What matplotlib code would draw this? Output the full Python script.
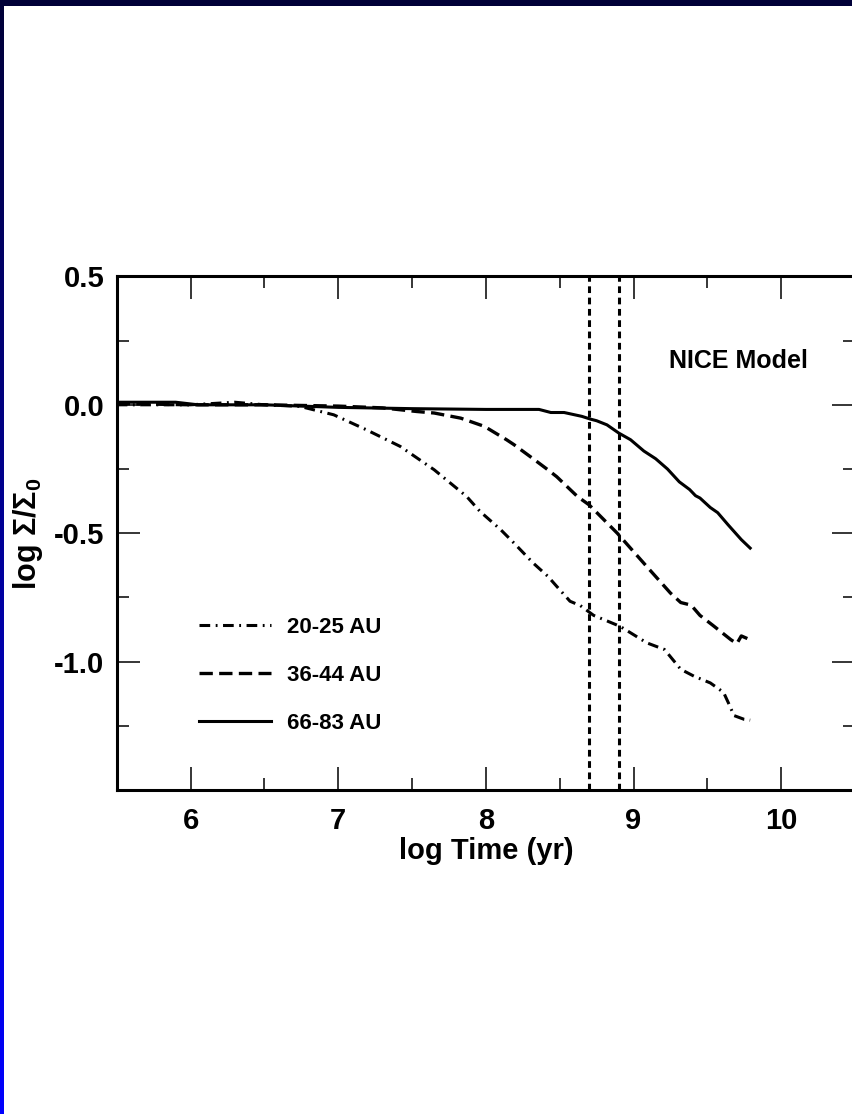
import numpy as np
import matplotlib
matplotlib.use("Agg")
import matplotlib.pyplot as plt
from matplotlib.patches import Rectangle

plt.rcParams['font.family'] = ['Liberation Sans', 'DejaVu Sans']
plt.rcParams['font.weight'] = 'bold'
plt.rcParams['mathtext.fontset'] = 'custom'
plt.rcParams['mathtext.rm'] = 'Liberation Sans:bold'
plt.rcParams['mathtext.bf'] = 'Liberation Sans:bold'
plt.rcParams['mathtext.it'] = 'Liberation Sans:bold'

# ---- data ----
x_20_25 = [5.5, 6.0, 6.3, 6.5, 6.74, 6.97, 7.19, 7.42, 7.65, 7.87, 7.96, 8.10, 8.19, 8.32,
           8.42, 8.48, 8.57, 8.64, 8.73, 8.91, 9.09, 9.21, 9.32, 9.41, 9.52, 9.61, 9.65,
           9.68, 9.75, 9.79]
y_20_25 = [0.0, 0.0, 0.01, 0.0, -0.006, -0.039, -0.097, -0.162, -0.253, -0.357, -0.415,
           -0.486, -0.538, -0.616, -0.668, -0.707, -0.765, -0.782, -0.82, -0.863, -0.927,
           -0.953, -1.03, -1.057, -1.083, -1.12, -1.17, -1.21, -1.225, -1.228]

x_36_44 = [5.5, 6.0, 6.5, 7.0, 7.3, 7.53, 7.65, 7.83, 7.99, 8.14, 8.19, 8.32, 8.42, 8.48,
           8.62, 8.70, 8.89, 9.09, 9.25, 9.32, 9.39, 9.45, 9.54, 9.66, 9.70, 9.73, 9.79]
y_36_44 = [0.005, 0.0, 0.0, -0.005, -0.012, -0.026, -0.032, -0.052, -0.084, -0.136,
           -0.155, -0.21, -0.253, -0.28, -0.357, -0.39, -0.50, -0.63, -0.733, -0.77,
           -0.78, -0.82, -0.86, -0.915, -0.93, -0.90, -0.915]

x_66_83 = [5.5, 5.9, 6.05, 6.5, 7.0, 7.5, 8.0, 8.36, 8.44, 8.53, 8.65, 8.71, 8.75, 8.82,
           8.90, 8.98, 9.07, 9.15, 9.23, 9.31, 9.38, 9.42, 9.45, 9.52, 9.57, 9.64, 9.73, 9.79]
y_66_83 = [0.01, 0.01, 0.0, 0.0, -0.01, -0.015, -0.018, -0.018, -0.03, -0.03, -0.045,
           -0.056, -0.062, -0.078, -0.11, -0.136, -0.18, -0.21, -0.25, -0.30, -0.33,
           -0.354, -0.363, -0.40, -0.42, -0.467, -0.525, -0.558]

series_labels = ['20-25 AU', '36-44 AU', '66-83 AU']
vlines_x = [8.7, 8.9]
x_ticks = [6, 7, 8, 9, 10]
y_ticks = [0.5, 0.0, -0.5, -1.0]
y_tick_labels = ['0.5', '0.0', '-0.5', '-1.0']

# ---- figure ----
W, H = 852, 1114
fig = plt.figure(figsize=(W / 100, H / 100), dpi=100)
fig.patch.set_facecolor('white')

# decorative slide border: dark top band, gradient left band
fig.patches.append(Rectangle((0, 1 - 6 / H), 1, 6 / H, transform=fig.transFigure,
                             facecolor='#000038', edgecolor='none', zorder=0))
bax = fig.add_axes([0, 0, 4 / W, 1 - 6 / H])
grad = np.linspace(0, 1, 256).reshape(-1, 1)
cols = np.zeros((256, 1, 3))
cols[:, 0, 2] = 0.22 + 0.78 * grad[:, 0]
bax.imshow(cols, aspect='auto', origin='upper', extent=[0, 1, 0, 1])
bax.set_axis_off()

ax = fig.add_axes([116.7 / W, (H - 790) / H, 738.3 / W, 513.6 / H])

l1, = ax.plot(x_20_25, y_20_25, color='black', lw=2.2, linestyle=(0, (3.5, 1.8, 0.6, 1.8)))
l2, = ax.plot(x_36_44, y_36_44, color='black', lw=2.4, linestyle=(0, (4.0, 1.9)))
l3, = ax.plot(x_66_83, y_66_83, color='black', lw=2.2, linestyle='-')
for xv in vlines_x:
    ax.axvline(xv, color='black', lw=2.2, linestyle=(0, (2.2, 1.5)))

ax.set_xlim(5.5, 10.5)
ax.set_ylim(-1.5, 0.5)
ax.set_xticks(x_ticks)
ax.set_xticks(np.arange(5.5, 10.51, 0.5), minor=True)
ax.set_yticks(y_ticks)
ax.set_yticklabels(y_tick_labels)
ax.set_yticks(np.arange(-1.25, 0.5, 0.5), minor=True)

ax.tick_params(which='both', direction='in', top=True, right=True, width=1.1,
               labelsize=21, pad=9)
ax.tick_params(axis='x', which='both', pad=12.5)
ax.tick_params(which='major', length=16.5)
ax.tick_params(which='minor', length=8.6)
for lab in ax.get_xticklabels() + ax.get_yticklabels():
    lab.set_fontweight('bold')
for s in ax.spines.values():
    s.set_linewidth(2.2)

ax.set_xlabel('log Time (yr)', fontsize=21, fontweight='bold', labelpad=1.5)
ax.set_ylabel(r'log $\mathbf{\Sigma/\Sigma_0}$', fontsize=22, fontweight='bold')
ax.yaxis.set_label_coords(-0.097, 0.5)

ax.text(9.24, 0.17, 'NICE Model', fontsize=18, fontweight='bold', ha='left', va='center')

leg = ax.legend([l1, l2, l3], series_labels, loc='upper left',
                bbox_to_anchor=(0.1115, 0.3376), frameon=False,
                handlelength=3.24, handletextpad=0.7, labelspacing=1.22,
                borderpad=0, borderaxespad=0, prop={'weight': 'bold', 'size': 16})

fig.savefig('out.png', dpi=100, facecolor='white')
